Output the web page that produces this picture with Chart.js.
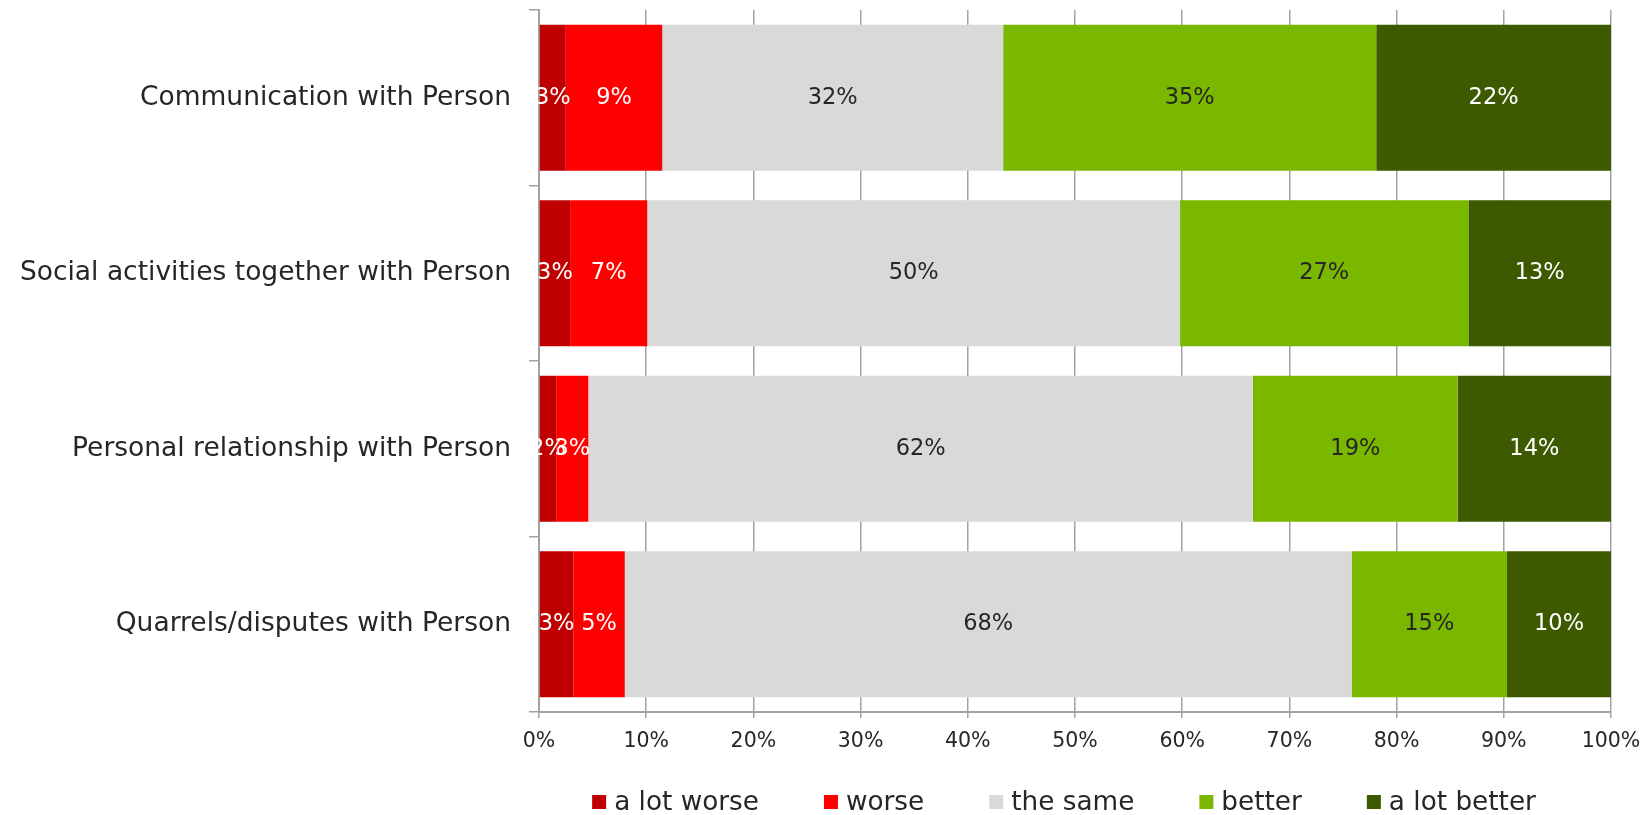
<!DOCTYPE html>
<html>
<head>
<meta charset="utf-8">
<script src="https://cdn.jsdelivr.net/npm/chart.js@4.4.1/dist/chart.umd.min.js"></script>
<style>
  html, body { margin: 0; padding: 0; background: #fff; }
  #wrap { width: 1645px; height: 815px; }
</style>
</head>
<body>
<div id="wrap"><canvas id="chart" width="1645" height="815"></canvas></div>
<script>
// categories (top to bottom)
const categories = [
  "Communication with Person",
  "Social activities together with Person",
  "Personal relationship with Person",
  "Quarrels/disputes with Person"
];

// series values, % of answers
const aLotWorse  = [2.5, 2.9, 1.6, 3.2];
const worse      = [9.0, 7.2, 3.0, 4.8];
const theSame    = [31.8, 49.7, 62.0, 67.8];
const better     = [34.8, 26.9, 19.1, 14.5];
const aLotBetter = [21.9, 13.3, 14.3, 9.7];

const seriesNames = ["a lot worse", "worse", "the same", "better", "a lot better"];
const xTicks = [0, 10, 20, 30, 40, 50, 60, 70, 80, 90, 100];

const FONT = "'DejaVu Sans', Verdana, sans-serif";
const TEXT = "#262626";
const GRID = "#a3a3a3";

const colors = ["#c00000", "#ff0000", "#d9d9d9", "#7ab800", "#3d5a00"];
const labelColors = ["#ffffff", "#ffffff", TEXT, TEXT, "#ffffff"];

// Value labels in the middle of each segment
const barLabels = {
  id: "barLabels",
  afterDatasetsDraw(chart) {
    const ctx = chart.ctx;
    ctx.save();
    ctx.font = "22.5px " + FONT;
    ctx.textAlign = "center";
    ctx.textBaseline = "middle";
    chart.data.datasets.forEach((ds, i) => {
      const meta = chart.getDatasetMeta(i);
      meta.data.forEach((bar, j) => {
        const v = ds.data[j];
        const cx = (bar.x + bar.base) / 2;
        ctx.fillStyle = labelColors[i];
        ctx.fillText(Math.round(v) + "%", cx, bar.y);
      });
    });
    ctx.restore();
  }
};

// Legend centred under the plot area
const bottomLegend = {
  id: "bottomLegend",
  afterDraw(chart) {
    const ctx = chart.ctx;
    const area = chart.chartArea;
    const box = 14, gap = 8, spacing = 65;
    ctx.save();
    ctx.font = "26.3px " + FONT;
    ctx.textBaseline = "middle";
    ctx.textAlign = "left";
    const widths = seriesNames.map(n => ctx.measureText(n).width);
    const total = widths.reduce((a, w) => a + box + gap + w, 0) + spacing * (seriesNames.length - 1);
    let x = (area.left + area.right) / 2 - 11 - total / 2;
    const y = 803;
    seriesNames.forEach((n, i) => {
      ctx.fillStyle = colors[i];
      ctx.fillRect(x, y - 8, box, box);
      ctx.fillStyle = TEXT;
      ctx.fillText(n, x + box + gap, y);
      x += box + gap + widths[i] + spacing;
    });
    ctx.restore();
  }
};

const seriesData = [aLotWorse, worse, theSame, better, aLotBetter];

const ctx = document.getElementById("chart").getContext("2d");
new Chart(ctx, {
  type: "bar",
  data: {
    labels: categories,
    datasets: seriesNames.map((name, i) => ({
      label: name,
      data: seriesData[i],
      backgroundColor: colors[i],
      borderWidth: 0,
      barPercentage: 0.832,
      categoryPercentage: 1
    }))
  },
  options: {
    indexAxis: "y",
    responsive: false,
    animation: false,
    layout: { padding: { top: 10, right: 34, bottom: 62, left: 0 } },
    plugins: {
      legend: { display: false },
      tooltip: { enabled: false }
    },
    scales: {
      x: {
        stacked: true,
        min: 0,
        max: 100,
        afterBuildTicks: (s) => { s.ticks = xTicks.map(v => ({ value: v })); },
        afterFit: (s) => { s.height = 41; s.paddingLeft = 0; s.paddingRight = 0; },
        grid: { color: GRID, lineWidth: 1.5, tickLength: 6, drawOnChartArea: true },
        border: { display: true, color: GRID, width: 2 },
        ticks: {
          padding: 11,
          color: TEXT,
          font: { family: FONT, size: 20.5 },
          callback: (v) => v + "%"
        }
      },
      y: {
        stacked: true,
        afterFit: (s) => { s.width = 539; s.paddingTop = 0; s.paddingBottom = 0; },
        grid: { color: GRID, lineWidth: 1.5, tickLength: 10, drawOnChartArea: false, offset: true },
        border: { display: true, color: GRID, width: 2 },
        ticks: {
          padding: 18,
          color: TEXT,
          font: { family: FONT, size: 26.5 }
        }
      }
    }
  },
  plugins: [barLabels, bottomLegend]
});
</script>
</body>
</html>
